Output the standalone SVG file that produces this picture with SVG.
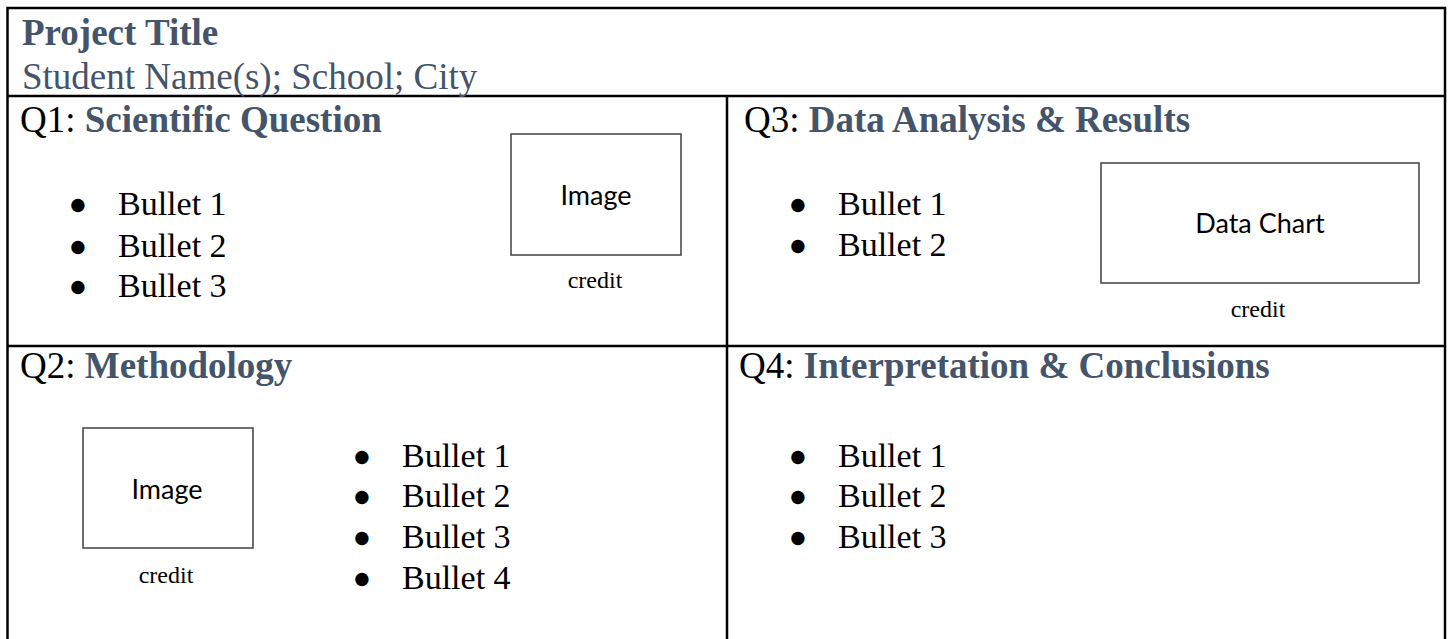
<svg xmlns="http://www.w3.org/2000/svg" width="1450" height="639" viewBox="0 0 1450 639">
  <style>
    .serif { font-family: "Liberation Serif", "Times New Roman", serif; }
    .head { font-size: 37px; fill: #000; }
    .accent { fill: #44546A; font-weight: bold; }
    .bul { font-size: 34px; fill: #000; }
    .bul .dot { font-family: "DejaVu Sans", sans-serif; font-size: 17.5px; text-anchor: middle; }
    .cap { font-size: 24px; fill: #000; text-anchor: middle; }
    .box { fill: #fff; stroke: #404040; stroke-width: 1.5; }
    .boxlabel { font-family: Lato, "Open Sans", sans-serif; font-size: 27px; fill: #000; text-anchor: middle; }
    .grid { stroke: #000; stroke-width: 2.5; fill: none; }
  </style>

  <rect width="1450" height="639" fill="#fff"/>

  <!-- table frame -->
  <g id="frame">
    <rect class="grid" x="7.5" y="8" width="1437.5" height="640"/>
    <line class="grid" x1="7.5" y1="96" x2="1445" y2="96"/>
    <line class="grid" x1="7.5" y1="346" x2="1445" y2="346"/>
    <line class="grid" x1="727" y1="96" x2="727" y2="639"/>
  </g>

  <!-- title row -->
  <g id="title" class="serif">
    <text x="22" y="45" font-size="37" font-weight="bold" fill="#44546A">Project Title</text>
    <text x="22" y="89" font-size="37" fill="#44546A">Student Name(s); School; City</text>
  </g>

  <!-- Q1 -->
  <g id="q1" class="serif">
    <text class="head" x="20" y="132">Q1: <tspan class="accent">Scientific Question</tspan></text>
    <g class="bul">
      <text class="dot" x="78" y="210">●</text><text x="118" y="215">Bullet 1</text>
      <text class="dot" x="78" y="252">●</text><text x="118" y="257">Bullet 2</text>
      <text class="dot" x="78" y="292">●</text><text x="118" y="297">Bullet 3</text>
    </g>
    <rect class="box" x="511" y="134" width="170" height="121"/>
    <text class="boxlabel" x="596" y="205">Image</text>
    <text class="cap" x="595" y="288">credit</text>
  </g>

  <!-- Q3 -->
  <g id="q3" class="serif">
    <text class="head" x="744" y="132">Q3: <tspan class="accent">Data Analysis &amp; Results</tspan></text>
    <g class="bul">
      <text class="dot" x="798" y="210">●</text><text x="838" y="215">Bullet 1</text>
      <text class="dot" x="798" y="251">●</text><text x="838" y="256">Bullet 2</text>
    </g>
    <rect class="box" x="1101" y="163" width="318" height="120"/>
    <text class="boxlabel" x="1260" y="233">Data Chart</text>
    <text class="cap" x="1258" y="317">credit</text>
  </g>

  <!-- Q2 -->
  <g id="q2" class="serif">
    <text class="head" x="20" y="378">Q2: <tspan class="accent">Methodology</tspan></text>
    <rect class="box" x="83" y="428" width="170" height="120"/>
    <text class="boxlabel" x="167" y="499">Image</text>
    <text class="cap" x="166" y="583">credit</text>
    <g class="bul">
      <text class="dot" x="362" y="462">●</text><text x="402" y="467">Bullet 1</text>
      <text class="dot" x="362" y="502">●</text><text x="402" y="507">Bullet 2</text>
      <text class="dot" x="362" y="543">●</text><text x="402" y="548">Bullet 3</text>
      <text class="dot" x="362" y="584">●</text><text x="402" y="589">Bullet 4</text>
    </g>
  </g>

  <!-- Q4 -->
  <g id="q4" class="serif">
    <text class="head" x="739" y="378">Q4: <tspan class="accent">Interpretation &amp; Conclusions</tspan></text>
    <g class="bul">
      <text class="dot" x="798" y="462">●</text><text x="838" y="467">Bullet 1</text>
      <text class="dot" x="798" y="502">●</text><text x="838" y="507">Bullet 2</text>
      <text class="dot" x="798" y="543">●</text><text x="838" y="548">Bullet 3</text>
    </g>
  </g>
</svg>
